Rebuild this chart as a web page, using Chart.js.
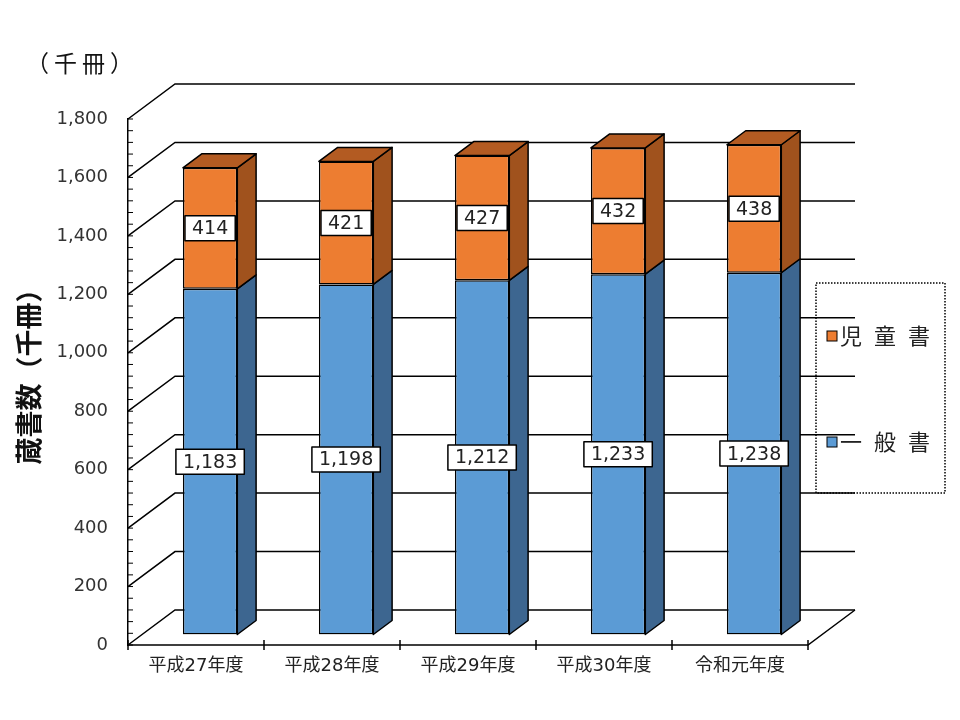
<!DOCTYPE html>
<html><head><meta charset="utf-8">
<script src="https://cdn.jsdelivr.net/npm/chart.js@4/dist/chart.umd.min.js"></script>
<style>html,body{margin:0;padding:0;background:#fff}</style>
</head><body>
<canvas id="c" width="960" height="720"></canvas>
<script>
// ---- data ----
const categories = ['平成27年度', '平成28年度', '平成29年度', '平成30年度', '令和元年度'];
const generalBooks = [1183, 1198, 1212, 1233, 1238];   // 一般書
const childrenBooks = [414, 421, 427, 432, 438];       // 児童書
const seriesNames = ['一般書', '児童書'];
const yMin = 0, yMax = 1800, yStep = 200, yMinorStep = 40;
const unitLabel = '（千冊）';
const yTitle = '蔵書数（千冊）';

// ---- style ----
const FONT = '"DejaVu Sans", "Noto Sans CJK JP", sans-serif';
const CJK = '"Noto Sans CJK JP", sans-serif';
const DEPTH = { dx: 47, dy: -35 };
const BAR_FRONT = 0.3, BAR_DEPTH = 0.4;
const colors = {
  front: ['#5B9BD5', '#ED7D31'],
  side: ['#3D6690', '#A0521D'],
  top: ['#4A7DAD', '#B35B22']
};
const fmt = v => v.toLocaleString('en-US');

const threeD = {
  id: 'threeD',
  beforeDatasetsDraw(chart) {
    const ctx = chart.ctx, xs = chart.scales.x, ys = chart.scales.y;
    const L = chart.chartArea.left, R = chart.chartArea.right;
    ctx.save();
    ctx.strokeStyle = '#000';
    ctx.lineWidth = 1.5;
    for (let v = yMin; v <= yMax; v += yStep) {
      const y = ys.getPixelForValue(v);
      ctx.beginPath();
      ctx.moveTo(L, y);
      ctx.lineTo(L + DEPTH.dx, y + DEPTH.dy);
      ctx.lineTo(R + DEPTH.dx, y + DEPTH.dy);
      ctx.stroke();
    }
    const y0 = ys.getPixelForValue(0);
    ctx.beginPath();
    ctx.moveTo(L, y0);
    ctx.lineTo(R, y0);
    ctx.lineTo(R + DEPTH.dx, y0 + DEPTH.dy);
    ctx.stroke();
    for (let i = 0; i <= categories.length; i++) {
      const x = xs.getPixelForValue(i - 0.5);
      ctx.beginPath();
      ctx.moveTo(x, y0 - 5);
      ctx.lineTo(x, y0 + 5);
      ctx.stroke();
    }
    ctx.lineWidth = 1;
    for (let v = yMin; v <= yMax; v += yMinorStep) {
      const y = ys.getPixelForValue(v);
      ctx.beginPath();
      ctx.moveTo(L, y);
      ctx.lineTo(L + 5, y);
      ctx.stroke();
    }
    ctx.restore();
    ctx.save();
    ctx.translate(DEPTH.dx * BAR_FRONT, DEPTH.dy * BAR_FRONT);
  },
  afterDatasetsDraw(chart) {
    const ctx = chart.ctx;
    const bx = DEPTH.dx * BAR_DEPTH, by = DEPTH.dy * BAR_DEPTH;
    const last = chart.data.datasets.length - 1;
    ctx.lineWidth = 1.5;
    ctx.strokeStyle = '#000';
    ctx.lineJoin = 'round';
    chart.data.datasets.forEach((ds, di) => {
      const meta = chart.getDatasetMeta(di);
      meta.data.forEach(el => {
        const p = el.getProps(['x', 'y', 'base', 'width'], true);
        const l = p.x - p.width / 2, r = p.x + p.width / 2;
        const t = Math.min(p.y, p.base), b = Math.max(p.y, p.base);
        ctx.beginPath();
        ctx.moveTo(r, t); ctx.lineTo(r + bx, t + by); ctx.lineTo(r + bx, b + by); ctx.lineTo(r, b);
        ctx.closePath();
        ctx.fillStyle = colors.side[di]; ctx.fill(); ctx.stroke();
        if (di === last) {
          ctx.beginPath();
          ctx.moveTo(l, t); ctx.lineTo(l + bx, t + by); ctx.lineTo(r + bx, t + by); ctx.lineTo(r, t);
          ctx.closePath();
          ctx.fillStyle = colors.top[di]; ctx.fill(); ctx.stroke();
        }
      });
    });
    ctx.font = '19px ' + FONT;
    ctx.textAlign = 'center';
    ctx.textBaseline = 'middle';
    chart.data.datasets.forEach((ds, di) => {
      const meta = chart.getDatasetMeta(di);
      meta.data.forEach((el, i) => {
        const p = el.getProps(['x', 'y', 'base'], true);
        const cy = (p.y + p.base) / 2;
        const txt = fmt(ds.data[i]);
        const w = ctx.measureText(txt).width + 14, h = 25;
        ctx.fillStyle = '#fff';
        ctx.fillRect(p.x - w / 2, cy - h / 2, w, h);
        ctx.strokeRect(p.x - w / 2, cy - h / 2, w, h);
        ctx.fillStyle = '#222';
        ctx.fillText(txt, p.x, cy + 1);
      });
    });
    ctx.restore();
  },
  afterDraw(chart) {
    const ctx = chart.ctx;
    ctx.save();
    ctx.fillStyle = '#111';
    ctx.font = '23px ' + CJK;
    ctx.textAlign = 'left';
    ctx.textBaseline = 'middle';
    ctx.letterSpacing = '5px';
    ctx.fillText(unitLabel, 26, 63);
    ctx.letterSpacing = '0px';
    ctx.save();
    ctx.translate(29, 370);
    ctx.rotate(-Math.PI / 2);
    ctx.font = 'bold 27px ' + CJK;
    ctx.textAlign = 'center';
    ctx.fillText(yTitle, 0, 0);
    ctx.restore();
    const lx = 816, ly = 283, lw = 129, lh = 210;
    ctx.strokeStyle = '#000';
    ctx.lineWidth = 1.5;
    ctx.setLineDash([1.5, 1.5]);
    ctx.strokeRect(lx, ly, lw, lh);
    ctx.setLineDash([]);
    const order = [1, 0];
    const rowsY = [336, 442];
    ctx.font = '22px ' + CJK;
    ctx.textBaseline = 'middle';
    ctx.letterSpacing = '12px';
    order.forEach((di, k) => {
      const y = rowsY[k];
      ctx.fillStyle = colors.front[di];
      ctx.fillRect(827, y - 5, 10, 10);
      ctx.lineWidth = 1;
      ctx.strokeRect(827, y - 5, 10, 10);
      ctx.fillStyle = '#222';
      ctx.fillText(chart.data.datasets[di].label, 840, y);
    });
    ctx.restore();
  }
};

new Chart(document.getElementById('c'), {
  type: 'bar',
  data: {
    labels: categories,
    datasets: [
      { label: seriesNames[0], data: generalBooks, backgroundColor: colors.front[0], borderColor: '#000', borderWidth: 1.5, borderSkipped: false },
      { label: seriesNames[1], data: childrenBooks, backgroundColor: colors.front[1], borderColor: '#000', borderWidth: 1.5, borderSkipped: false }
    ]
  },
  options: {
    responsive: false,
    animation: false,
    devicePixelRatio: 1,
    layout: { padding: { left: 0, right: 152, top: 119, bottom: 0 } },
    datasets: { bar: { categoryPercentage: 0.4, barPercentage: 1 } },
    plugins: { legend: { display: false }, tooltip: { enabled: false }, title: { display: false } },
    scales: {
      x: {
        stacked: true,
        offset: true,
        grid: { display: false, drawTicks: false },
        border: { display: false },
        ticks: { font: { family: FONT, size: 18 }, color: '#222', padding: 11 },
        afterFit: s => { s.height = 75; }
      },
      y: {
        stacked: true,
        min: yMin, max: yMax,
        grid: { display: false, drawTicks: false },
        border: { display: true, color: '#000', width: 1.5 },
        ticks: { stepSize: yStep, font: { family: FONT, size: 18 }, color: '#333', padding: 20, callback: v => fmt(v) },
        afterFit: s => { s.width = 128; }
      }
    }
  },
  plugins: [threeD]
});
</script>
</body></html>
